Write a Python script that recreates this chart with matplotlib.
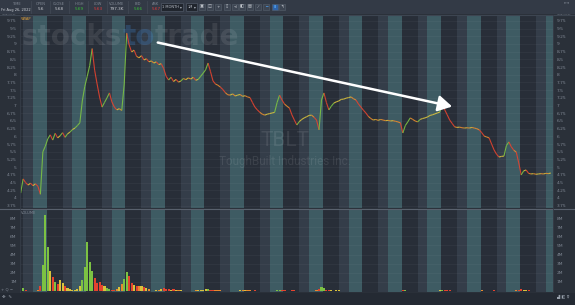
import matplotlib.pyplot as plt
import numpy as np
from matplotlib.collections import LineCollection
from matplotlib.lines import Line2D
from matplotlib.patches import Rectangle

W, H = 575, 305

# ---- data (hourly bars, 16 session hours per day: 4:00 - 20:00) ----
day_labels = ['07/28', '07/29', 'Aug', '08/02', '08/03', '08/04', '08/05',
              '08/08', '08/09', '08/10', '08/11', '08/12', '08/15', '08/16']
first_hour = -5  # chart opens in the after-hours of 07/27

price_0727 = [4.16, 4.62, 4.50, 4.42, 4.48]
price_0728 = [4.40, 4.46, 4.38, 4.12, 5.50, 5.68, 5.92, 6.05, 5.88, 6.10, 5.95, 6.02, 6.12, 5.97, 6.08, 6.14]
price_0729 = [6.22, 6.27, 6.35, 6.44, 7.15, 7.62, 7.95, 8.30, 8.85, 8.15, 7.70, 7.28, 6.95, 7.10, 7.25, 7.41]
price_0801 = [7.12, 6.95, 6.86, 6.90, 6.84, 7.70, 9.35, 8.97, 8.74, 8.80, 8.60, 8.55, 8.62, 8.48, 8.52, 8.42]
price_0802 = [8.45, 8.38, 8.42, 8.33, 8.36, 8.20, 7.95, 7.83, 7.92, 7.78, 7.85, 7.76, 7.80, 7.88, 7.84, 7.90]
price_0803 = [7.86, 7.92, 7.82, 7.85, 7.95, 8.05, 8.16, 8.38, 8.10, 7.80, 7.70, 7.66, 7.60, 7.52, 7.42, 7.35]
price_0804 = [7.34, 7.38, 7.31, 7.34, 7.36, 7.30, 7.32, 7.28, 7.26, 7.10, 6.95, 6.86, 6.78, 6.72, 6.69, 6.72]
price_0805 = [6.74, 6.76, 6.78, 7.10, 7.34, 7.18, 7.05, 6.98, 6.92, 6.70, 6.53, 6.37, 6.48, 6.55, 6.60, 6.64]
price_0808 = [6.68, 6.69, 6.62, 6.53, 6.21, 7.18, 7.41, 7.10, 6.86, 6.98, 7.08, 7.12, 7.15, 7.20, 7.21, 7.24]
price_0809 = [7.26, 7.28, 7.22, 7.18, 7.05, 6.95, 6.85, 6.76, 6.65, 6.58, 6.53, 6.55, 6.52, 6.55, 6.53, 6.51]
price_0810 = [6.52, 6.50, 6.51, 6.49, 6.47, 6.44, 6.11, 6.35, 6.47, 6.60, 6.55, 6.50, 6.47, 6.55, 6.58, 6.60]
price_0811 = [6.63, 6.68, 6.70, 6.73, 6.76, 6.79, 7.18, 6.86, 6.70, 6.53, 6.42, 6.31, 6.29, 6.30, 6.28, 6.27]
price_0812 = [6.28, 6.27, 6.29, 6.27, 6.25, 6.21, 6.12, 6.01, 5.98, 5.95, 5.75, 5.56, 5.42, 5.33, 5.35, 5.36]
price_0815 = [5.70, 5.82, 5.66, 5.55, 5.49, 5.14, 4.75, 4.88, 4.91, 4.80, 4.78, 4.79, 4.77, 4.78, 4.79, 4.78]
price_0816 = [4.80, 4.79, 4.81]

# volume in millions of shares
vol_0727 = [0.05, 0.30, 0.10, 0.05, 0.05]
vol_0728 = [0.05, 0.05, 0.10, 0.60, 2.90, 8.30, 4.80, 2.20, 1.50, 1.00, 0.80, 1.20, 0.90, 0.60, 0.30, 0.20]
vol_0729 = [0.10, 0.10, 0.20, 0.50, 1.20, 2.60, 5.40, 3.20, 2.20, 1.40, 0.90, 1.00, 0.70, 0.50, 0.30, 0.20]
vol_0801 = [0.10, 0.10, 0.20, 0.40, 0.80, 1.30, 2.10, 1.60, 0.90, 0.70, 0.60, 0.50, 0.60, 0.40, 0.30, 0.20]
vol_0802 = [0.05, 0.05, 0.10, 0.15, 0.20, 0.35, 0.25, 0.20, 0.15, 0.20, 0.15, 0.10, 0.10, 0.05, 0.05, 0.05]
vol_0803 = [0.03, 0.05, 0.10, 0.10, 0.12, 0.15, 0.20, 0.18, 0.12, 0.10, 0.08, 0.08, 0.06, 0.05, 0.03, 0.03]
vol_0804 = [0.02, 0.03, 0.05, 0.05, 0.06, 0.10, 0.12, 0.08, 0.06, 0.05, 0.06, 0.05, 0.04, 0.03, 0.02, 0.02]
vol_0805 = [0.02, 0.03, 0.04, 0.06, 0.12, 0.08, 0.06, 0.05, 0.04, 0.06, 0.07, 0.05, 0.04, 0.03, 0.03, 0.02]
vol_0808 = [0.02, 0.03, 0.05, 0.08, 0.25, 0.45, 0.30, 0.12, 0.08, 0.06, 0.05, 0.08, 0.10, 0.05, 0.03, 0.02]
vol_0809 = [0.02, 0.02, 0.03, 0.04, 0.05, 0.04, 0.03, 0.05, 0.04, 0.03, 0.03, 0.02, 0.02, 0.02, 0.02, 0.02]
vol_0810 = [0.02, 0.02, 0.03, 0.03, 0.04, 0.05, 0.08, 0.06, 0.05, 0.04, 0.04, 0.03, 0.03, 0.02, 0.02, 0.02]
vol_0811 = [0.02, 0.02, 0.03, 0.04, 0.05, 0.06, 0.15, 0.10, 0.08, 0.06, 0.05, 0.04, 0.03, 0.02, 0.02, 0.02]
vol_0812 = [0.02, 0.02, 0.03, 0.04, 0.05, 0.05, 0.06, 0.05, 0.05, 0.04, 0.05, 0.06, 0.05, 0.04, 0.03, 0.02]
vol_0815 = [0.03, 0.05, 0.04, 0.04, 0.08, 0.15, 0.18, 0.10, 0.08, 0.06, 0.04, 0.04, 0.03, 0.03, 0.02, 0.02]
vol_0816 = [0.02, 0.02, 0.02]

price_ticks = [3.75, 4, 4.25, 4.5, 4.75, 5, 5.25, 5.5, 5.75, 6, 6.25, 6.5, 6.75,
               7, 7.25, 7.5, 7.75, 8, 8.25, 8.5, 8.75, 9, 9.25, 9.5, 9.75]
volume_ticks = [1, 2, 3, 4, 5, 6, 7, 8]

quote_names = ['TIME', 'OPEN', 'CLOSE', 'HIGH', 'LOW', 'VOLUME', 'BID', 'ASK']
quote_values = ['Fri Aug 26, 2022', '5.6', '5.68', '5.69', '5.63', '797.3K', '5.66', '5.67']

price = (price_0727 + price_0728 + price_0729 + price_0801 + price_0802 + price_0803 + price_0804
         + price_0805 + price_0808 + price_0809 + price_0810 + price_0811 + price_0812 + price_0815 + price_0816)
volume = (vol_0727 + vol_0728 + vol_0729 + vol_0801 + vol_0802 + vol_0803 + vol_0804
          + vol_0805 + vol_0808 + vol_0809 + vol_0810 + vol_0811 + vol_0812 + vol_0815 + vol_0816)
hours = first_hour + np.arange(len(price))

# ---- colours ----
PANEL = '#2a3039'
BG_DARK = '#282e38'
BG_AFTER = '#343d49'
BG_PRE = '#3e5b63'
TXT = '#808894'
GREEN, YELLOW, ORANGE, RED = '#7cc243', '#d9c23c', '#e8892e', '#e4432f'


def fx(x):
    return x / W


def fy(y):
    return 1 - y / H


def move_color(d):
    if d > 0.08:
        return GREEN
    if d >= 0:
        return YELLOW
    if d > -0.08:
        return ORANGE
    return RED


def vol_color(d):
    if d > 0.15:
        return GREEN
    if d >= 0:
        return YELLOW
    if d > -0.1:
        return ORANGE
    return RED


fig = plt.figure(figsize=(W / 100, H / 100), dpi=100, facecolor=PANEL)
ax_p = fig.add_axes([fx(20), fy(208), 533 / W, 193 / H])
ax_v = fig.add_axes([fx(20), fy(292), 533 / W, 83 / H], sharex=ax_p)

# session bands: pre-market (teal), regular (dark), after-hours (grey-blue)
for ax in (ax_p, ax_v):
    ax.set_facecolor(BG_DARK)
    for d in range(-1, len(day_labels)):
        s = 16 * d
        ax.axvspan(s, s + 5.5, color=BG_PRE, lw=0, zorder=0)
        ax.axvspan(s + 5.5, s + 12, color=BG_DARK, lw=0, zorder=0)
        ax.axvspan(s + 12, s + 16, color=BG_AFTER, lw=0, zorder=0)
    for sp in ax.spines.values():
        sp.set_visible(False)

for v in price_ticks:
    ax_p.axhline(v, color='white', alpha=0.05, lw=0.5, zorder=0.5)
for v in volume_ticks:
    ax_v.axhline(v, color='white', alpha=0.05, lw=0.5, zorder=0.5)

# watermark
r = fig.canvas.get_renderer()
wm = dict(transform=fig.transFigure, fontsize=20, fontweight='bold', va='baseline',
          ha='left', zorder=1, family='DejaVu Sans')
t1 = ax_p.text(fx(22), fy(45), 'stocks', color='white', alpha=0.09, **wm)
x1 = t1.get_window_extent(r).x1
t2 = ax_p.text(x1 / W, fy(45), 'to', color='#3f80c4', alpha=0.3, **wm)
x2 = t2.get_window_extent(r).x1
ax_p.text(x2 / W, fy(45), 'trade', color='white', alpha=0.09, **wm)
ax_p.text(fx(285), fy(140), 'TBLT', transform=fig.transFigure, fontsize=15, color='white',
          alpha=0.09, ha='center', va='center', family='Roboto', zorder=1)
ax_p.text(fx(285), fy(161), 'ToughBuilt Industries Inc.', transform=fig.transFigure, fontsize=8.5,
          color='white', alpha=0.09, ha='center', va='center', family='Roboto', zorder=1)

# price line, coloured by move
pts = np.column_stack([hours, price])
segs = np.stack([pts[:-1], pts[1:]], axis=1)
seg_colors = [move_color(d) for d in np.diff(price)]
ax_p.add_collection(LineCollection(segs, colors=seg_colors, linewidths=0.8, alpha=0.9, zorder=3))

# trend arrow
ax_p.annotate('', xy=(171.1, 6.95), xytext=(49.5, 9.065),
              arrowprops=dict(arrowstyle='-|>,head_length=0.7,head_width=0.4',
                              color='white', lw=1.8, mutation_scale=12), zorder=5)

# volume
vol_colors = [vol_color(d) for d in np.diff([price[0]] + price)]
ax_v.bar(hours, volume, width=0.85, color=vol_colors, lw=0, zorder=3)

ax_p.set_xlim(-5.27, 210.9)
ax_p.set_ylim(3.675, 9.94)
ax_v.set_ylim(-0.11, 9.01)

ax_p.set_yticks(price_ticks)
ax_p.set_yticklabels([f'{v:g}' for v in price_ticks])
ax_p.tick_params(axis='y', length=0, labelsize=3.2, labelcolor=TXT, labelleft=True,
                 labelright=True, pad=2.5)
ax_p.tick_params(axis='x', length=0, labelbottom=False)

ax_v.set_yticks(volume_ticks)
ax_v.set_yticklabels([f'{v}M' for v in volume_ticks])
ax_v.tick_params(axis='y', length=0, labelsize=3.2, labelcolor=TXT, labelleft=True,
                 labelright=True, pad=2.5)
ax_v.set_xticks([16 * i for i in range(len(day_labels))])
ax_v.set_xticklabels(day_labels)
ax_v.tick_params(axis='x', length=0, labelsize=3.2, labelcolor=TXT, pad=3)

ax_p.text(fx(9), fy(15.5), '9.9750', transform=fig.transFigure, fontsize=3, color=TXT,
          ha='center', va='center')
ax_p.text(fx(564), fy(15.5), '9.9750', transform=fig.transFigure, fontsize=3, color=TXT,
          ha='center', va='center')
ax_p.text(fx(21), fy(19), 'VWAP', transform=fig.transFigure, fontsize=2.6, color='#e0a13a',
          ha='left', va='center')
ax_v.text(fx(21), fy(213), 'VOLUME', transform=fig.transFigure, fontsize=2.6, color=TXT,
          ha='left', va='center')

# frame pieces
fig.add_artist(Line2D([0, 1], [fy(208.5)] * 2, color='#59616d', lw=0.8))
fig.add_artist(Line2D([0, 1], [fy(14.5)] * 2, color='#3d4551', lw=0.8))
fig.add_artist(Line2D([fx(20)] * 2, [fy(292), fy(15)], color='#363d48', lw=0.6))
fig.add_artist(Line2D([fx(553)] * 2, [fy(292), fy(15)], color='#363d48', lw=0.6))
fig.patches.append(Rectangle((0, fy(14)), 1, 14 / H, transform=fig.transFigure,
                             facecolor='#333a46', lw=0, zorder=0))
fig.patches.append(Rectangle((0, 0), 1, fy(292.5), transform=fig.transFigure,
                             facecolor='#242a33', lw=0, zorder=0))

# toolbar quote fields
name_x = [16, 41, 59, 79, 98, 117, 138, 156]
val_colors = ['#c9cdd3', '#c9cdd3', '#c9cdd3', '#38c238', '#e43a3a', '#c9cdd3', '#38c238', '#e43a3a']
for name, val, x, c in zip(quote_names, quote_values, name_x, val_colors):
    fig.text(fx(x), fy(4), name, fontsize=2.6, color=TXT, ha='center', va='center')
    fig.text(fx(x), fy(9.5), val, fontsize=2.6 if name == 'TIME' else 3, color=c,
             ha='center', va='center')
for x in [31, 50, 69, 88, 107, 128, 147]:
    fig.add_artist(Line2D([fx(x)] * 2, [fy(1), fy(13)], color='#434b57', lw=0.5))

# timeframe boxes
fig.patches.append(Rectangle((fx(161), fy(10.5)), 22 / W, 7 / H, transform=fig.transFigure,
                             facecolor='#20252d', edgecolor='#4f5866', lw=0.5))
fig.text(fx(170), fy(7), '1 MONTH', fontsize=2.6, color='#b8bec7', ha='center', va='center')
fig.text(fx(181), fy(7), '▾', fontsize=2.6, color='#b8bec7', ha='center', va='center')
fig.patches.append(Rectangle((fx(186), fy(10.5)), 11 / W, 7 / H, transform=fig.transFigure,
                             facecolor='#20252d', edgecolor='#4f5866', lw=0.5))
fig.text(fx(190), fy(7), '1M', fontsize=2.6, color='#b8bec7', ha='center', va='center')
fig.text(fx(195), fy(7), '▾', fontsize=2.6, color='#b8bec7', ha='center', va='center')

icon_x = [199, 207, 215, 224, 232, 239, 247, 255, 263, 272, 279]
icon_glyph = ['▣', '◫', '+', '▯', '⋖', '◧', '▤', '⁄', '━', '▮', '↰']
for i, (x, g) in enumerate(zip(icon_x, icon_glyph)):
    fc = '#2f63a8' if i == 9 else '#3d4552'
    fig.patches.append(Rectangle((fx(x), fy(10)), 6 / W, 6.5 / H, transform=fig.transFigure,
                                 facecolor=fc, edgecolor='#56606c', lw=0.4))
    gc = '#4d9be6' if i in (8, 9) else '#c9cdd3'
    fig.text(fx(x + 3), fy(6.8), g, fontsize=3, color=gc, ha='center', va='center')
fig.text(fx(567), fy(2.5), '⇤⇥', fontsize=2.6, color=TXT, ha='center', va='center')

# bottom corner controls
fig.text(fx(7), fy(289.5), '+ Q −', fontsize=2.8, color=TXT, ha='center', va='center')
fig.text(fx(7), fy(297), '✥  ✎', fontsize=3.2, color='#9aa2ad', ha='center', va='center')
fig.text(fx(563), fy(296.5), '▟ ◧ ♀', fontsize=3, color='#9aa2ad', ha='center', va='center')

fig.savefig('out.png', dpi=100, facecolor=fig.get_facecolor())
